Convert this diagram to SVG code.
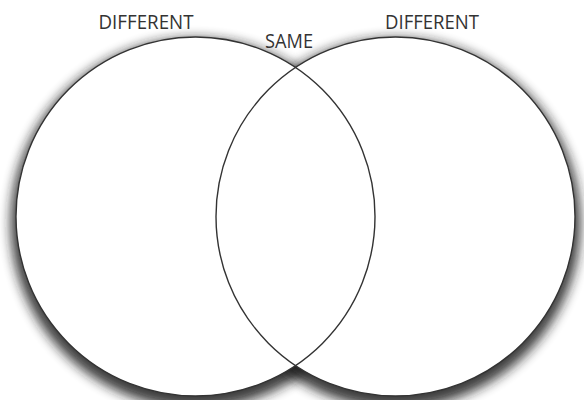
<svg xmlns="http://www.w3.org/2000/svg" width="584" height="400" viewBox="0 0 584 400">
  <defs>
    <filter id="shadow" x="-20%" y="-20%" width="140%" height="140%">
      <feGaussianBlur stdDeviation="6"/>
    </filter>
  </defs>
  <style>
    .shadow { fill: #1a1a1a; filter: url(#shadow); opacity: 0.85; }
    .fill { fill: #ffffff; stroke: none; }
    .ring { fill: none; stroke: #333333; stroke-width: 1.4; }
    .label { font-family: "Open Sans", "Liberation Sans", sans-serif; font-size: 20px; fill: #333333; text-anchor: middle; }
  </style>
  <rect width="584" height="400" fill="#ffffff"/>
  <g id="shadows">
    <circle class="shadow" cx="195.5" cy="223" r="185"/>
    <circle class="shadow" cx="395.5" cy="223" r="185"/>
  </g>
  <g id="fills">
    <circle class="fill" cx="195.5" cy="216.5" r="179.5"/>
    <circle class="fill" cx="395.5" cy="216.5" r="179.5"/>
  </g>
  <g id="left-circle">
    <circle class="ring" cx="195.5" cy="216.5" r="179.5"/>
    <text class="label" x="146" y="29" textLength="95" lengthAdjust="spacingAndGlyphs">DIFFERENT</text>
  </g>
  <g id="right-circle">
    <circle class="ring" cx="395.5" cy="216.5" r="179.5"/>
    <text class="label" x="432" y="29" textLength="94" lengthAdjust="spacingAndGlyphs">DIFFERENT</text>
  </g>
  <g id="overlap">
    <text class="label" x="289" y="48" textLength="48" lengthAdjust="spacingAndGlyphs">SAME</text>
  </g>
  <g id="connectors"/>
</svg>
